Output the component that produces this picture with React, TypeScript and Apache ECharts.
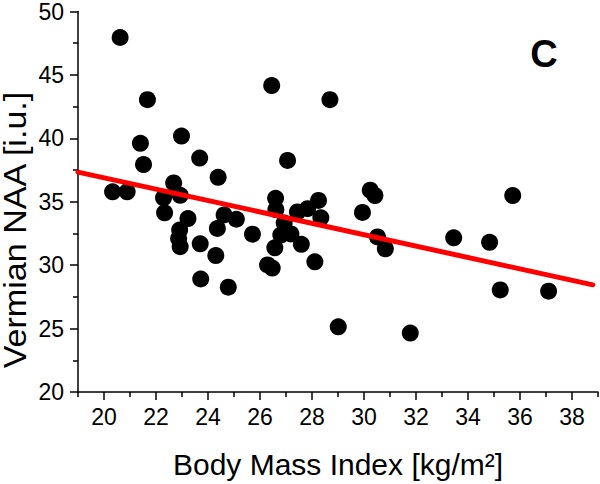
import React, { useEffect, useRef } from "react";
import * as echarts from "echarts";

const bmi: number[] = [
  20.62, 21.67, 21.4, 21.52, 20.33, 20.89, 22.98, 22.68, 22.29, 22.93,
  22.33, 23.23, 22.91, 22.87, 22.93, 23.7, 23.72, 23.68, 24.39, 24.36,
  24.62, 25.09, 24.3, 24.78, 25.71, 26.45, 27.06, 26.6, 26.61, 26.93,
  26.8, 27.19, 26.57, 26.29, 26.47, 27.59, 27.44, 27.83, 28.25, 28.34,
  28.11, 28.69, 30.24, 30.42, 29.94, 30.52, 30.82, 29.01, 31.78, 33.45,
  34.83, 35.72, 35.24, 37.1,
];
const naa: number[] = [
  47.95, 43.05, 39.61, 37.93, 35.78, 35.78, 40.18, 36.48, 35.31, 35.51,
  34.13, 33.67, 32.77, 32.11, 31.46, 31.68, 28.91, 38.44, 36.93, 32.89,
  33.96, 33.62, 30.76, 28.26, 32.44, 44.16, 38.26, 35.27, 34.38, 33.32,
  32.37, 32.46, 31.37, 30.02, 29.77, 31.64, 34.2, 34.45, 35.1, 33.73,
  30.26, 43.05, 35.91, 35.49, 34.16, 32.23, 31.29, 25.14, 24.65, 32.16,
  31.8, 35.49, 28.05, 27.95,
];
const fitX: number[] = [19, 38.8];
const fitY: number[] = [37.34, 28.45];
const xMajorTicks: number[] = [20, 22, 24, 26, 28, 30, 32, 34, 36, 38];
const xMinorTicks: number[] = [19, 21, 23, 25, 27, 29, 31, 33, 35, 37, 39];
const xTitle = "Body Mass Index [kg/m²]";
const yTitle = "Vermian NAA [i.u.]";
const panelLabel = "C";

const FONT = "Liberation Sans, Arial, sans-serif";

export default function App() {
  const ref = useRef<HTMLDivElement>(null);
  useEffect(() => {
    if (!ref.current) return;
    const chart = echarts.init(ref.current, null, { renderer: "svg" });
    const axisLineStyle = { color: "#000", width: 1.5 };
    chart.setOption({
      animation: false,
      backgroundColor: "#fff",
      grid: { left: 78, right: 2, top: 11, bottom: 89, containLabel: false },
      xAxis: [
        {
          type: "value",
          min: 19,
          max: 39,
          interval: 1,
          splitLine: { show: false },
          axisLine: { show: true, onZero: false, lineStyle: axisLineStyle },
          axisTick: {
            show: true,
            length: 8,
            lineStyle: axisLineStyle,
            customValues: xMajorTicks,
          },
          axisLabel: {
            show: true,
            margin: 13,
            fontSize: 23,
            fontFamily: FONT,
            color: "#000",
            customValues: xMajorTicks,
          },
          name: xTitle,
          nameLocation: "middle",
          nameGap: 57,
          nameTextStyle: { fontSize: 30, fontFamily: FONT, color: "#000" },
        },
        {
          type: "value",
          min: 19,
          max: 39,
          interval: 1,
          position: "bottom",
          splitLine: { show: false },
          axisLine: { show: false },
          axisTick: {
            show: true,
            length: 5,
            lineStyle: axisLineStyle,
            customValues: xMinorTicks,
          },
          axisLabel: { show: false },
        },
      ],
      yAxis: {
        type: "value",
        min: 20,
        max: 50,
        interval: 5,
        splitLine: { show: false },
        axisLine: { show: true, onZero: false, lineStyle: axisLineStyle },
        axisTick: { show: true, length: 8, lineStyle: axisLineStyle },
        minorTick: { show: true, splitNumber: 2, length: 5, lineStyle: axisLineStyle },
        minorSplitLine: { show: false },
        axisLabel: {
          margin: 14,
          fontSize: 23,
          fontFamily: FONT,
          color: "#000",
        },
      },
      graphic: [
        {
          type: "text",
          x: 16,
          y: 230,
          rotation: Math.PI / 2,
          scaleX: 1.1,
          style: {
            text: yTitle,
            font: `31px ${FONT}`,
            fill: "#000",
            textAlign: "center",
            textVerticalAlign: "middle",
          },
        },
        {
          type: "text",
          x: 544,
          y: 54,
          style: {
            text: panelLabel,
            font: `bold 38px ${FONT}`,
            fill: "#000",
            textAlign: "center",
            textVerticalAlign: "middle",
          },
        },
      ],
      series: [
        {
          type: "scatter",
          xAxisIndex: 0,
          data: bmi.map((x, i) => [x, naa[i]]),
          symbol: "circle",
          symbolSize: 17,
          itemStyle: { color: "#000", opacity: 1 },
          z: 2,
        },
        {
          type: "line",
          xAxisIndex: 0,
          data: fitX.map((x, i) => [x, fitY[i]]),
          symbol: "none",
          lineStyle: { color: "#ff0000", width: 5, cap: "round" },
          z: 3,
        },
      ],
    });
    return () => chart.dispose();
  }, []);
  return (
    <div
      ref={ref}
      style={{ position: "fixed", left: 0, top: 0, width: 600, height: 484 }}
    />
  );
}
